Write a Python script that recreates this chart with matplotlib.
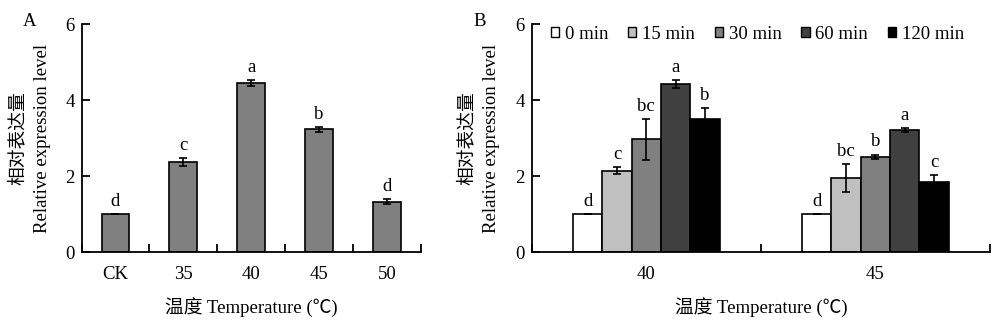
import matplotlib
matplotlib.use("Agg")
import matplotlib.pyplot as plt
import numpy as np
from matplotlib.patches import Patch

plt.rcParams['font.family'] = ['Liberation Serif', 'Noto Sans CJK SC']
plt.rcParams['font.size'] = 13.5
plt.rcParams['axes.linewidth'] = 1.3

# Panel A data
a_categories = ["CK", "35", "40", "45", "50"]
a_values = [1.0, 2.37, 4.45, 3.23, 1.33]
a_errors = [0.0, 0.10, 0.07, 0.07, 0.07]
a_letters = ["d", "c", "a", "b", "d"]

# Panel B data
b_categories = ["40", "45"]
b_series = ["0 min", "15 min", "30 min", "60 min", "120 min"]
b_values = [[1.0, 1.0],
            [2.15, 1.96],
            [2.97, 2.51],
            [4.42, 3.22],
            [3.51, 1.84]]
b_errors = [[0.0, 0.0],
            [0.10, 0.37],
            [0.54, 0.06],
            [0.10, 0.05],
            [0.29, 0.20]]
b_letters = [["d", "d"], ["c", "bc"], ["bc", "b"], ["a", "a"], ["b", "c"]]
b_colors = ["#ffffff", "#c0c0c0", "#808080", "#404040", "#000000"]

yticks = [0, 2, 4, 6]
xlabel = "温度 Temperature (℃)"
ylabel_cn = "相对表达量"
ylabel_en = "Relative expression level"

fig = plt.figure(figsize=(10, 3.29), dpi=100)
axA = fig.add_axes([0.0815, 0.233, 0.3395, 0.694])
axB = fig.add_axes([0.5317, 0.233, 0.4583, 0.694])

def style(ax, n):
    ax.spines['top'].set_visible(False)
    ax.spines['right'].set_visible(False)
    ax.set_ylim(0, 6)
    ax.set_yticks(yticks)
    ax.set_xlim(-0.5, n - 0.5)
    ax.set_xticks(np.arange(n))
    ax.set_xticks(np.arange(n + 1) - 0.5, minor=True)
    ax.tick_params(axis='x', which='major', length=0, pad=10)
    ax.tick_params(axis='x', which='minor', direction='in', length=6, width=1.3)
    ax.tick_params(axis='y', direction='in', length=6, width=1.3, pad=5)

# Panel A
xa = np.arange(len(a_categories))
axA.bar(xa, a_values, width=0.41, color="#808080", edgecolor="black", linewidth=1.2, zorder=2)
axA.errorbar(xa, a_values, yerr=a_errors, fmt='none', ecolor='black', elinewidth=1.2,
             capsize=3, capthick=1.2, zorder=3)
for x, v, e, t in zip(xa, a_values, a_errors, a_letters):
    axA.annotate(t, (x, v + e), xytext=(0, 3), textcoords='offset points',
                 ha='center', va='bottom')
style(axA, len(a_categories))
axA.set_xticklabels(a_categories)

# Panel B
xb = np.arange(len(b_categories))
w = 0.128
for i, (s, vals, errs, lets, c) in enumerate(zip(b_series, b_values, b_errors, b_letters, b_colors)):
    pos = xb + (i - 2) * w
    axB.bar(pos, vals, width=w, color=c, edgecolor="black", linewidth=1.2, zorder=2, label=s)
    axB.errorbar(pos, vals, yerr=errs, fmt='none', ecolor='black', elinewidth=1.2,
                 capsize=3, capthick=1.2, zorder=3)
    for x, v, e, t in zip(pos, vals, errs, lets):
        axB.annotate(t, (x, v + e), xytext=(0, 3), textcoords='offset points',
                     ha='center', va='bottom')
style(axB, len(b_categories))
axB.set_xticklabels(b_categories)

handles = [Patch(facecolor=c, edgecolor='black', linewidth=1.0) for c in b_colors]
axB.legend(handles, b_series, ncol=5, frameon=False, loc='upper left',
           bbox_to_anchor=(0.025, 1.025), handlelength=0.45, handleheight=0.45,
           handletextpad=0.3, columnspacing=1.05, borderaxespad=0)

# Axis labels
for ax, xcn, xen in [(axA, 0.018, 0.043), (axB, 0.467, 0.492)]:
    pos = ax.get_position()
    cy = (pos.y0 + pos.y1) / 2
    fig.text(xcn, cy, ylabel_cn, rotation=90, ha='center', va='center')
    fig.text(xen, cy, ylabel_en, rotation=90, ha='center', va='center')
    fig.text((pos.x0 + pos.x1) / 2, 0.064, xlabel, ha='center', va='center')

fig.text(0.030, 0.935, "A", ha='center', va='center')
fig.text(0.480, 0.935, "B", ha='center', va='center')

fig.savefig("out.png", dpi=100)
